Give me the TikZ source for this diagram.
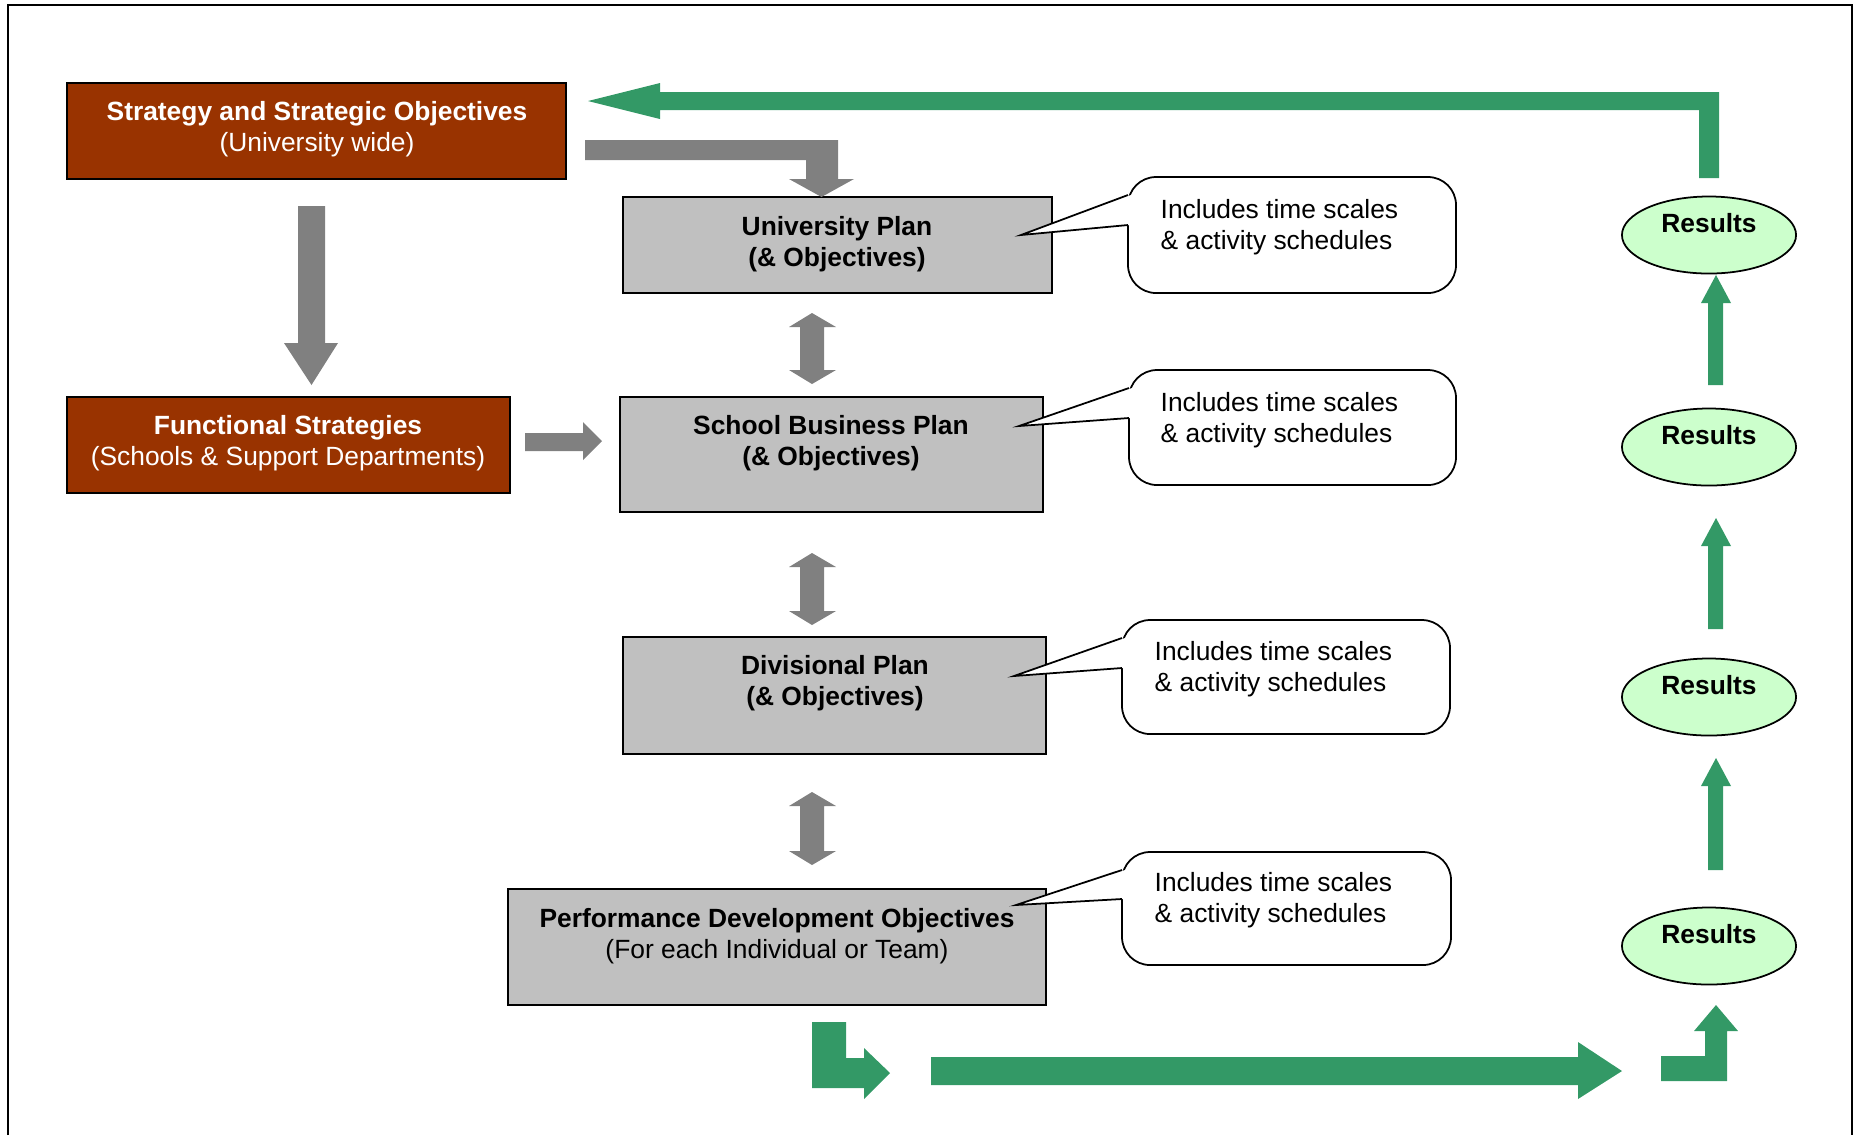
\documentclass[tikz,border=0pt]{standalone}
\usepackage{fontspec}
\setmainfont{Liberation Sans}
\usetikzlibrary{shapes.geometric,fit}
\definecolor{brownfill}{HTML}{993300}
\definecolor{grayfill}{HTML}{C0C0C0}
\definecolor{grayarrow}{HTML}{808080}
\definecolor{greenarrow}{HTML}{339966}
\definecolor{resfill}{HTML}{CCFFCC}
\begin{document}
\begin{tikzpicture}[x=0.01cm,y=-0.01cm,
 font=\fontsize{7.5}{8.9}\selectfont,
 brownbox/.style={draw=black, line width=0.6pt, fill=brownfill, inner sep=0pt},
 graybox/.style={draw=black, line width=0.5pt, fill=grayfill, inner sep=0pt},
 boxtext/.style={align=center, inner sep=0pt},
 calloutbody/.style={draw=black, line width=0.5pt, fill=white, rounded corners=0.28cm},
 calloutline/.style={draw=black, line width=0.5pt, line join=miter},
 callouttext/.style={align=left, anchor=west, inner sep=0pt},
 result/.style={ellipse, draw=black, line width=0.5pt, fill=resfill, minimum width=1.74cm, minimum height=0.77cm, inner sep=0pt},
 grayblock/.style={fill=grayarrow},
 greenblock/.style={fill=greenarrow}]
\useasboundingbox (0,0) rectangle (1854,1135);
\draw[line width=0.7pt] (8,1135) -- (8,5) -- (1852,5) -- (1852,1135);

% boxes
\node[brownbox, fit={(67,83) (566,179)}] (strat) {};
\node[boxtext, text=white] (stratT) at (317,129) {\textbf{Strategy and Strategic Objectives}\\(University wide)};
\node[brownbox, fit={(67,397) (510,493)}] (func) {};
\node[boxtext, text=white] (funcT) at (288,443) {\textbf{Functional Strategies}\\(Schools \& Support Departments)};
\node[graybox, fit={(623,197) (1052,293)}] (univ) {};
\node[boxtext] (univT) at (837,244) {\textbf{University Plan}\\\textbf{(\& Objectives)}};
\node[graybox, fit={(620,397) (1043,512)}] (school) {};
\node[boxtext] (schoolT) at (831,443) {\textbf{School Business Plan}\\\textbf{(\& Objectives)}};
\node[graybox, fit={(623,637) (1046,754)}] (div) {};
\node[boxtext] (divT) at (835,683) {\textbf{Divisional Plan}\\\textbf{(\& Objectives)}};
\node[graybox, fit={(508,889) (1046,1005)}] (perf) {};
\node[boxtext] (perfT) at (777,936) {\textbf{Performance Development Objectives}\\(For each Individual or Team)};

% callouts
\draw[calloutbody] (1128,177) rectangle (1456,293);
\fill[white] (1131,195) -- (1021,235) -- (1131,225) -- cycle;
\draw[calloutline] (1128,195) -- (1021,235) -- (1128,225);
\node[callouttext] (c1) at (1160,227) {Includes time scales\\\& activity schedules};

\draw[calloutbody] (1129,370) rectangle (1456,485);
\fill[white] (1132,388) -- (1019,426) -- (1132,418) -- cycle;
\draw[calloutline] (1129,388) -- (1019,426) -- (1129,418);
\node[callouttext] (c2) at (1160,420) {Includes time scales\\\& activity schedules};

\draw[calloutbody] (1122,620) rectangle (1450,734);
\fill[white] (1125,638) -- (1014,676) -- (1125,668) -- cycle;
\draw[calloutline] (1122,638) -- (1014,676) -- (1122,668);
\node[callouttext] (c3) at (1154,669) {Includes time scales\\\& activity schedules};

\draw[calloutbody] (1122,852) rectangle (1451,965);
\fill[white] (1125,870) -- (1016,905) -- (1125,899) -- cycle;
\draw[calloutline] (1122,870) -- (1016,905) -- (1122,899);
\node[callouttext] (c4) at (1154,900) {Includes time scales\\\& activity schedules};

% results
\node[result] (r1) at (1709,235) {};
\node[boxtext] (r1T) at (1709,223) {\textbf{Results}};
\node[result] (r2) at (1709,447) {};
\node[boxtext] (r2T) at (1709,435) {\textbf{Results}};
\node[result] (r3) at (1709,697) {};
\node[boxtext] (r3T) at (1709,685) {\textbf{Results}};
\node[result] (r4) at (1709,946) {};
\node[boxtext] (r4T) at (1709,934) {\textbf{Results}};

% gray block arrows
\fill[grayblock] (585,140) -- (838,140) -- (838,179) -- (854,179) -- (821.5,197) -- (789,179) -- (806,179) -- (806,160) -- (585,160) -- cycle;
\fill[grayblock] (298,206) -- (325,206) -- (325,343) -- (338,343) -- (311.5,385) -- (284,343) -- (298,343) -- cycle;
\fill[grayblock] (525,433) -- (583,433) -- (583,422) -- (602,441) -- (583,460) -- (583,451) -- (525,451) -- cycle;
\foreach \ta/\tb in {313/384, 553/625, 792/865}{
  \fill[grayblock] (812,\ta) -- (836,\ta+14) -- (824,\ta+14) -- (824,\tb-14) -- (836,\tb-14) -- (812,\tb) -- (789,\tb-14) -- (800,\tb-14) -- (800,\ta+14) -- (789,\ta+14) -- cycle;
}

% green block arrows
\fill[greenblock] (588,101) -- (660,83) -- (660,92) -- (1719,92) -- (1719,178) -- (1699,178) -- (1699,110) -- (660,110) -- (660,119) -- cycle;
\fill[greenblock] (812,1022) -- (846,1022) -- (846,1058) -- (864,1058) -- (864,1048) -- (890,1073) -- (864,1099) -- (864,1088) -- (812,1088) -- cycle;
\fill[greenblock] (931,1057) -- (1578,1057) -- (1578,1042) -- (1622,1071) -- (1578,1099) -- (1578,1085) -- (931,1085) -- cycle;
\fill[greenblock] (1661,1056) -- (1705,1056) -- (1705,1031) -- (1694,1031) -- (1716,1005) -- (1738,1031) -- (1727,1031) -- (1727,1081) -- (1661,1081) -- cycle;
\foreach \bb/\tt in {385/275, 629/518, 870/758}{
  \fill[greenblock] (1708,\bb) -- (1708,\tt+28) -- (1701,\tt+28) -- (1716,\tt) -- (1731,\tt+28) -- (1723,\tt+28) -- (1723,\bb) -- cycle;
}
\end{tikzpicture}
\end{document}
